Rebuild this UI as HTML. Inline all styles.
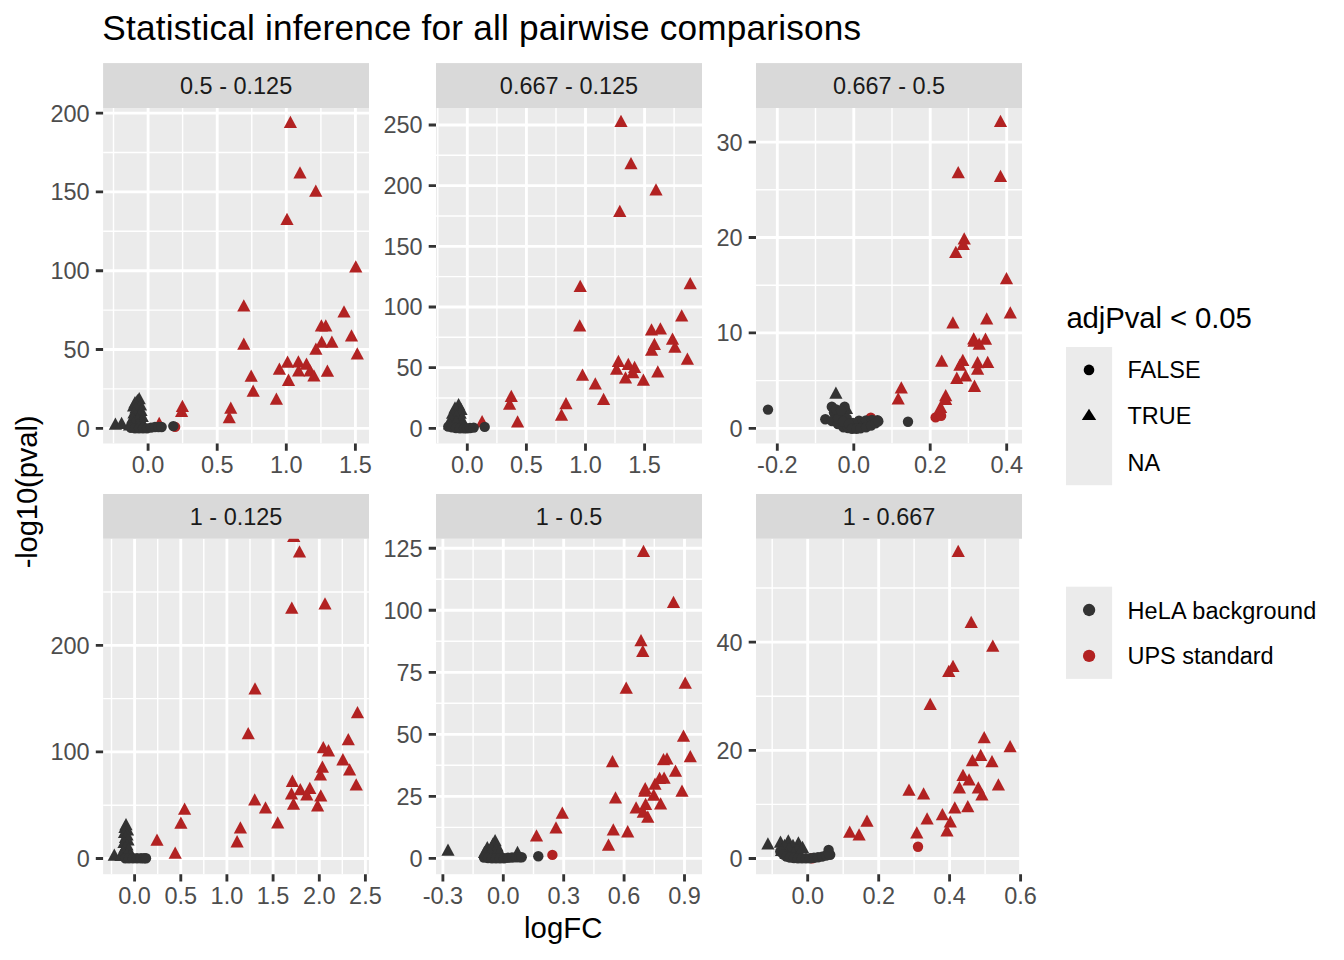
<!DOCTYPE html>
<html lang="en"><head><meta charset="utf-8"><title>Statistical inference for all pairwise comparisons</title>
<style>html,body{margin:0;padding:0;background:#fff}body{width:1344px;height:960px;overflow:hidden}svg{display:block}text{font-family:"Liberation Sans",Arial,Helvetica,sans-serif}.ax{font-size:23.47px;fill:#4D4D4D}.st{font-size:23.47px;fill:#1A1A1A}.lg{font-size:23.47px;fill:#000}.tt{font-size:29.33px;fill:#000}.ti{font-size:35.2px;fill:#000;letter-spacing:0.2px}</style></head><body>
<svg width="1344" height="960" viewBox="0 0 1344 960">
<rect width="1344" height="960" fill="#fff"/>
<text class="ti" x="102.3" y="39.7">Statistical inference for all pairwise comparisons</text>
<g>
<rect x="103.1" y="63.1" width="265.9" height="44.9" fill="#D9D9D9"/>
<text class="st" x="236.1" y="94.3" text-anchor="middle">0.5 - 0.125</text>
<clipPath id="c0"><rect x="103.1" y="108.0" width="265.9" height="335.5"/></clipPath>
<rect x="103.1" y="108.0" width="265.9" height="335.5" fill="#EBEBEB"/>
<g clip-path="url(#c0)">
<path d="M113.5 108.0V443.5M182.6 108.0V443.5M251.8 108.0V443.5M320.9 108.0V443.5M103.1 388.9H369.0M103.1 310.1H369.0M103.1 231.3H369.0M103.1 152.5H369.0" stroke="#fff" stroke-width="1.42" fill="none"/>
<path d="M148.1 108.0V443.5M217.2 108.0V443.5M286.3 108.0V443.5M355.4 108.0V443.5M103.1 428.3H369.0M103.1 349.5H369.0M103.1 270.7H369.0M103.1 191.9H369.0M103.1 113.1H369.0" stroke="#fff" stroke-width="2.85" fill="none"/>
<circle cx="175.1" cy="426.9" r="5.20" fill="#B22222"/>
<path d="M290.4 115.7L297.0 128.0L283.8 128.0Z" fill="#B22222"/>
<path d="M300.0 166.2L306.6 178.5L293.4 178.5Z" fill="#B22222"/>
<path d="M315.8 184.4L322.4 196.8L309.1 196.8Z" fill="#B22222"/>
<path d="M287.0 212.7L293.6 225.0L280.4 225.0Z" fill="#B22222"/>
<path d="M355.8 260.2L362.4 272.5L349.1 272.5Z" fill="#B22222"/>
<path d="M243.8 299.3L250.4 311.6L237.2 311.6Z" fill="#B22222"/>
<path d="M344.0 305.2L350.6 317.5L337.4 317.5Z" fill="#B22222"/>
<path d="M321.4 319.2L328.0 331.5L314.8 331.5Z" fill="#B22222"/>
<path d="M325.8 319.2L332.4 331.5L319.2 331.5Z" fill="#B22222"/>
<path d="M351.5 329.2L358.1 341.5L344.9 341.5Z" fill="#B22222"/>
<path d="M243.8 337.4L250.4 349.7L237.2 349.7Z" fill="#B22222"/>
<path d="M321.7 335.4L328.3 347.7L315.1 347.7Z" fill="#B22222"/>
<path d="M331.9 335.4L338.5 347.7L325.3 347.7Z" fill="#B22222"/>
<path d="M315.9 342.4L322.5 354.7L309.3 354.7Z" fill="#B22222"/>
<path d="M357.3 347.3L363.9 359.6L350.7 359.6Z" fill="#B22222"/>
<path d="M287.6 355.4L294.2 367.7L280.9 367.7Z" fill="#B22222"/>
<path d="M298.4 355.3L305.0 367.6L291.8 367.6Z" fill="#B22222"/>
<path d="M306.5 357.5L313.1 369.8L299.9 369.8Z" fill="#B22222"/>
<path d="M279.4 362.4L286.0 374.7L272.8 374.7Z" fill="#B22222"/>
<path d="M298.6 364.3L305.2 376.6L292.0 376.6Z" fill="#B22222"/>
<path d="M310.0 364.3L316.6 376.6L303.4 376.6Z" fill="#B22222"/>
<path d="M313.9 369.2L320.5 381.5L307.3 381.5Z" fill="#B22222"/>
<path d="M327.4 364.5L334.1 376.8L320.8 376.8Z" fill="#B22222"/>
<path d="M288.5 373.6L295.1 385.9L281.9 385.9Z" fill="#B22222"/>
<path d="M251.2 369.5L257.8 381.8L244.6 381.8Z" fill="#B22222"/>
<path d="M253.2 384.5L259.8 396.8L246.6 396.8Z" fill="#B22222"/>
<path d="M276.4 392.4L283.0 404.7L269.8 404.7Z" fill="#B22222"/>
<path d="M182.4 399.7L189.0 412.0L175.8 412.0Z" fill="#B22222"/>
<path d="M181.6 404.7L188.2 417.0L175.0 417.0Z" fill="#B22222"/>
<path d="M230.8 401.4L237.3 413.8L224.2 413.8Z" fill="#B22222"/>
<path d="M229.2 410.9L235.8 423.2L222.7 423.2Z" fill="#B22222"/>
<path d="M159.2 416.7L165.8 429.0L152.6 429.0Z" fill="#B22222"/>
<path d="M115.4 417.4L122.0 429.7L108.8 429.7Z" fill="#333333"/>
<path d="M121.6 416.8L128.2 429.1L115.0 429.1Z" fill="#333333"/>
<path d="M139.2 391.9L145.8 404.2L132.6 404.2Z" fill="#333333"/>
<path d="M137.4 393.9L144.0 406.2L130.8 406.2Z" fill="#333333"/>
<path d="M135.0 396.0L141.6 408.3L128.4 408.3Z" fill="#333333"/>
<path d="M133.6 399.2L140.2 411.5L127.0 411.5Z" fill="#333333"/>
<path d="M140.5 398.2L147.1 410.5L133.9 410.5Z" fill="#333333"/>
<path d="M136.0 401.2L142.6 413.5L129.4 413.5Z" fill="#333333"/>
<path d="M141.0 403.7L147.6 416.0L134.4 416.0Z" fill="#333333"/>
<path d="M134.0 406.2L140.6 418.5L127.4 418.5Z" fill="#333333"/>
<path d="M139.5 408.2L146.1 420.5L132.9 420.5Z" fill="#333333"/>
<path d="M142.3 409.7L148.9 422.0L135.7 422.0Z" fill="#333333"/>
<path d="M132.8 411.2L139.4 423.5L126.2 423.5Z" fill="#333333"/>
<path d="M137.5 412.7L144.1 425.0L130.9 425.0Z" fill="#333333"/>
<path d="M141.5 414.7L148.1 427.0L134.9 427.0Z" fill="#333333"/>
<path d="M133.5 416.2L140.1 428.5L126.9 428.5Z" fill="#333333"/>
<path d="M138.0 417.7L144.6 430.0L131.4 430.0Z" fill="#333333"/>
<path d="M129.5 418.2L136.1 430.5L122.9 430.5Z" fill="#333333"/>
<path d="M143.5 418.2L150.1 430.5L136.9 430.5Z" fill="#333333"/>
<circle cx="131.0" cy="427.8" r="5.20" fill="#333333"/>
<circle cx="135.0" cy="428.2" r="5.20" fill="#333333"/>
<circle cx="139.0" cy="428.4" r="5.20" fill="#333333"/>
<circle cx="143.0" cy="428.4" r="5.20" fill="#333333"/>
<circle cx="147.0" cy="428.4" r="5.20" fill="#333333"/>
<circle cx="151.0" cy="427.6" r="5.20" fill="#333333"/>
<circle cx="155.0" cy="427.0" r="5.20" fill="#333333"/>
<circle cx="158.5" cy="427.0" r="5.20" fill="#333333"/>
<circle cx="161.6" cy="427.0" r="5.20" fill="#333333"/>
<circle cx="173.3" cy="426.1" r="5.20" fill="#333333"/>
</g>
<text class="ax" x="148.1" y="472.8" text-anchor="middle">0.0</text>
<text class="ax" x="217.2" y="472.8" text-anchor="middle">0.5</text>
<text class="ax" x="286.3" y="472.8" text-anchor="middle">1.0</text>
<text class="ax" x="355.4" y="472.8" text-anchor="middle">1.5</text>
<text class="ax" x="89.7" y="436.7" text-anchor="end">0</text>
<text class="ax" x="89.7" y="357.9" text-anchor="end">50</text>
<text class="ax" x="89.7" y="279.1" text-anchor="end">100</text>
<text class="ax" x="89.7" y="200.3" text-anchor="end">150</text>
<text class="ax" x="89.7" y="121.5" text-anchor="end">200</text>
<path d="M148.1 443.5V450.8M217.2 443.5V450.8M286.3 443.5V450.8M355.4 443.5V450.8M95.8 428.3H103.1M95.8 349.5H103.1M95.8 270.7H103.1M95.8 191.9H103.1M95.8 113.1H103.1" stroke="#333" stroke-width="2.85" fill="none"/>
</g>
<g>
<rect x="436.0" y="63.1" width="266.0" height="44.9" fill="#D9D9D9"/>
<text class="st" x="569.0" y="94.3" text-anchor="middle">0.667 - 0.125</text>
<clipPath id="c1"><rect x="436.0" y="108.0" width="266.0" height="335.5"/></clipPath>
<rect x="436.0" y="108.0" width="266.0" height="335.5" fill="#EBEBEB"/>
<g clip-path="url(#c1)">
<path d="M437.8 108.0V443.5M496.9 108.0V443.5M556.0 108.0V443.5M615.0 108.0V443.5M674.1 108.0V443.5M436.0 398.0H702.0M436.0 337.3H702.0M436.0 276.6H702.0M436.0 216.0H702.0M436.0 155.3H702.0" stroke="#fff" stroke-width="1.42" fill="none"/>
<path d="M467.3 108.0V443.5M526.4 108.0V443.5M585.5 108.0V443.5M644.6 108.0V443.5M436.0 428.3H702.0M436.0 367.6H702.0M436.0 307.0H702.0M436.0 246.3H702.0M436.0 185.6H702.0M436.0 125.0H702.0" stroke="#fff" stroke-width="2.85" fill="none"/>
<path d="M621.0 114.7L627.6 127.0L614.4 127.0Z" fill="#B22222"/>
<path d="M631.0 156.9L637.6 169.2L624.4 169.2Z" fill="#B22222"/>
<path d="M656.0 183.2L662.6 195.5L649.4 195.5Z" fill="#B22222"/>
<path d="M619.8 204.7L626.4 217.0L613.1 217.0Z" fill="#B22222"/>
<path d="M690.2 276.9L696.9 289.2L683.6 289.2Z" fill="#B22222"/>
<path d="M580.2 279.7L586.9 292.0L573.6 292.0Z" fill="#B22222"/>
<path d="M681.7 309.2L688.3 321.5L675.1 321.5Z" fill="#B22222"/>
<path d="M579.7 319.2L586.3 331.5L573.1 331.5Z" fill="#B22222"/>
<path d="M651.5 323.2L658.1 335.5L644.9 335.5Z" fill="#B22222"/>
<path d="M660.4 322.3L667.0 334.6L653.8 334.6Z" fill="#B22222"/>
<path d="M672.5 332.5L679.1 344.8L665.9 344.8Z" fill="#B22222"/>
<path d="M654.4 337.7L661.0 350.0L647.8 350.0Z" fill="#B22222"/>
<path d="M674.9 340.5L681.5 352.8L668.3 352.8Z" fill="#B22222"/>
<path d="M651.6 343.4L658.2 355.7L645.0 355.7Z" fill="#B22222"/>
<path d="M687.4 352.5L694.0 364.8L680.8 364.8Z" fill="#B22222"/>
<path d="M618.4 354.7L625.0 367.0L611.8 367.0Z" fill="#B22222"/>
<path d="M616.6 362.4L623.2 374.7L610.0 374.7Z" fill="#B22222"/>
<path d="M628.3 357.7L634.9 370.0L621.7 370.0Z" fill="#B22222"/>
<path d="M634.6 360.8L641.2 373.1L628.0 373.1Z" fill="#B22222"/>
<path d="M632.8 366.0L639.4 378.3L626.2 378.3Z" fill="#B22222"/>
<path d="M625.5 371.3L632.1 383.6L618.9 383.6Z" fill="#B22222"/>
<path d="M643.4 373.4L650.0 385.7L636.8 385.7Z" fill="#B22222"/>
<path d="M657.8 365.3L664.4 377.6L651.2 377.6Z" fill="#B22222"/>
<path d="M582.5 368.4L589.1 380.7L575.9 380.7Z" fill="#B22222"/>
<path d="M595.3 377.3L601.9 389.6L588.7 389.6Z" fill="#B22222"/>
<path d="M603.6 392.7L610.2 405.0L597.0 405.0Z" fill="#B22222"/>
<path d="M566.0 396.9L572.6 409.2L559.4 409.2Z" fill="#B22222"/>
<path d="M561.5 408.4L568.1 420.8L554.9 420.8Z" fill="#B22222"/>
<path d="M511.3 389.7L517.9 402.0L504.7 402.0Z" fill="#B22222"/>
<path d="M509.6 397.5L516.2 409.8L503.0 409.8Z" fill="#B22222"/>
<path d="M517.6 415.3L524.2 427.6L511.0 427.6Z" fill="#B22222"/>
<path d="M482.1 414.9L488.7 427.2L475.5 427.2Z" fill="#B22222"/>
<path d="M458.6 397.9L465.2 410.2L452.0 410.2Z" fill="#333333"/>
<path d="M455.0 401.2L461.6 413.5L448.4 413.5Z" fill="#333333"/>
<path d="M461.0 402.7L467.6 415.0L454.4 415.0Z" fill="#333333"/>
<path d="M452.6 406.4L459.2 418.7L446.0 418.7Z" fill="#333333"/>
<path d="M460.2 406.4L466.8 418.7L453.6 418.7Z" fill="#333333"/>
<path d="M456.5 409.2L463.1 421.5L449.9 421.5Z" fill="#333333"/>
<path d="M451.0 412.2L457.6 424.5L444.4 424.5Z" fill="#333333"/>
<path d="M461.5 412.2L468.1 424.5L454.9 424.5Z" fill="#333333"/>
<path d="M456.0 414.7L462.6 427.0L449.4 427.0Z" fill="#333333"/>
<path d="M449.5 417.2L456.1 429.5L442.9 429.5Z" fill="#333333"/>
<path d="M462.0 417.2L468.6 429.5L455.4 429.5Z" fill="#333333"/>
<circle cx="448.3" cy="426.6" r="5.20" fill="#333333"/>
<circle cx="452.0" cy="427.2" r="5.20" fill="#333333"/>
<circle cx="456.0" cy="428.0" r="5.20" fill="#333333"/>
<circle cx="460.0" cy="428.3" r="5.20" fill="#333333"/>
<circle cx="464.0" cy="428.4" r="5.20" fill="#333333"/>
<circle cx="467.0" cy="428.4" r="5.20" fill="#333333"/>
<circle cx="470.0" cy="428.0" r="5.20" fill="#333333"/>
<circle cx="473.7" cy="427.6" r="5.20" fill="#333333"/>
<circle cx="484.7" cy="426.9" r="5.20" fill="#333333"/>
</g>
<text class="ax" x="467.3" y="472.8" text-anchor="middle">0.0</text>
<text class="ax" x="526.4" y="472.8" text-anchor="middle">0.5</text>
<text class="ax" x="585.5" y="472.8" text-anchor="middle">1.0</text>
<text class="ax" x="644.6" y="472.8" text-anchor="middle">1.5</text>
<text class="ax" x="422.6" y="436.7" text-anchor="end">0</text>
<text class="ax" x="422.6" y="376.0" text-anchor="end">50</text>
<text class="ax" x="422.6" y="315.4" text-anchor="end">100</text>
<text class="ax" x="422.6" y="254.7" text-anchor="end">150</text>
<text class="ax" x="422.6" y="194.0" text-anchor="end">200</text>
<text class="ax" x="422.6" y="133.4" text-anchor="end">250</text>
<path d="M467.3 443.5V450.8M526.4 443.5V450.8M585.5 443.5V450.8M644.6 443.5V450.8M428.7 428.3H436.0M428.7 367.6H436.0M428.7 307.0H436.0M428.7 246.3H436.0M428.7 185.6H436.0M428.7 125.0H436.0" stroke="#333" stroke-width="2.85" fill="none"/>
</g>
<g>
<rect x="756.0" y="63.1" width="266.0" height="44.9" fill="#D9D9D9"/>
<text class="st" x="889.0" y="94.3" text-anchor="middle">0.667 - 0.5</text>
<clipPath id="c2"><rect x="756.0" y="108.0" width="266.0" height="335.5"/></clipPath>
<rect x="756.0" y="108.0" width="266.0" height="335.5" fill="#EBEBEB"/>
<g clip-path="url(#c2)">
<path d="M815.5 108.0V443.5M892.0 108.0V443.5M968.4 108.0V443.5M756.0 380.6H1022.0M756.0 285.2H1022.0M756.0 189.8H1022.0" stroke="#fff" stroke-width="1.42" fill="none"/>
<path d="M777.3 108.0V443.5M853.8 108.0V443.5M930.2 108.0V443.5M1006.7 108.0V443.5M756.0 428.3H1022.0M756.0 332.9H1022.0M756.0 237.5H1022.0M756.0 142.1H1022.0" stroke="#fff" stroke-width="2.85" fill="none"/>
<circle cx="870.8" cy="417.6" r="5.20" fill="#B22222"/>
<circle cx="935.6" cy="417.4" r="5.20" fill="#B22222"/>
<circle cx="941.1" cy="415.7" r="5.20" fill="#B22222"/>
<path d="M1000.5 114.7L1007.1 127.0L993.9 127.0Z" fill="#B22222"/>
<path d="M958.2 165.9L964.9 178.2L951.6 178.2Z" fill="#B22222"/>
<path d="M1000.5 169.7L1007.1 182.0L993.9 182.0Z" fill="#B22222"/>
<path d="M964.2 232.2L970.9 244.5L957.6 244.5Z" fill="#B22222"/>
<path d="M963.2 237.7L969.9 250.0L956.6 250.0Z" fill="#B22222"/>
<path d="M955.8 245.7L962.4 258.0L949.1 258.0Z" fill="#B22222"/>
<path d="M1006.5 271.9L1013.1 284.2L999.9 284.2Z" fill="#B22222"/>
<path d="M1010.3 306.2L1016.9 318.5L1003.7 318.5Z" fill="#B22222"/>
<path d="M986.7 312.3L993.3 324.6L980.1 324.6Z" fill="#B22222"/>
<path d="M952.9 316.2L959.5 328.5L946.3 328.5Z" fill="#B22222"/>
<path d="M973.7 332.3L980.3 344.6L967.1 344.6Z" fill="#B22222"/>
<path d="M974.0 334.5L980.6 346.8L967.4 346.8Z" fill="#B22222"/>
<path d="M985.5 332.5L992.1 344.8L978.9 344.8Z" fill="#B22222"/>
<path d="M979.2 337.5L985.8 349.8L972.6 349.8Z" fill="#B22222"/>
<path d="M941.7 354.4L948.3 366.7L935.1 366.7Z" fill="#B22222"/>
<path d="M962.8 353.7L969.4 366.0L956.2 366.0Z" fill="#B22222"/>
<path d="M959.9 358.5L966.5 370.8L953.3 370.8Z" fill="#B22222"/>
<path d="M977.6 355.9L984.2 368.2L971.0 368.2Z" fill="#B22222"/>
<path d="M987.7 355.7L994.3 368.0L981.1 368.0Z" fill="#B22222"/>
<path d="M977.6 362.4L984.2 374.7L971.0 374.7Z" fill="#B22222"/>
<path d="M965.6 369.3L972.2 381.6L959.0 381.6Z" fill="#B22222"/>
<path d="M956.8 371.6L963.4 383.9L950.2 383.9Z" fill="#B22222"/>
<path d="M974.5 379.6L981.1 391.9L967.9 391.9Z" fill="#B22222"/>
<path d="M945.7 388.9L952.3 401.2L939.1 401.2Z" fill="#B22222"/>
<path d="M945.6 392.6L952.2 404.9L939.0 404.9Z" fill="#B22222"/>
<path d="M940.6 400.6L947.2 412.9L934.0 412.9Z" fill="#B22222"/>
<path d="M901.3 381.2L907.9 393.5L894.7 393.5Z" fill="#B22222"/>
<path d="M898.2 392.2L904.8 404.5L891.6 404.5Z" fill="#B22222"/>
<path d="M835.9 386.4L842.5 398.7L829.3 398.7Z" fill="#333333"/>
<path d="M846.5 401.7L853.1 414.0L839.9 414.0Z" fill="#333333"/>
<path d="M841.0 404.7L847.6 417.0L834.4 417.0Z" fill="#333333"/>
<circle cx="768.0" cy="409.6" r="5.20" fill="#333333"/>
<circle cx="831.8" cy="406.8" r="5.20" fill="#333333"/>
<circle cx="844.6" cy="406.8" r="5.20" fill="#333333"/>
<circle cx="825.3" cy="419.3" r="5.20" fill="#333333"/>
<circle cx="834.0" cy="412.5" r="5.20" fill="#333333"/>
<circle cx="840.0" cy="415.0" r="5.20" fill="#333333"/>
<circle cx="846.8" cy="418.5" r="5.20" fill="#333333"/>
<circle cx="832.0" cy="421.0" r="5.20" fill="#333333"/>
<circle cx="837.9" cy="424.0" r="5.20" fill="#333333"/>
<circle cx="843.5" cy="427.4" r="5.20" fill="#333333"/>
<circle cx="848.0" cy="428.0" r="5.20" fill="#333333"/>
<circle cx="852.4" cy="428.0" r="5.20" fill="#333333"/>
<circle cx="856.5" cy="427.4" r="5.20" fill="#333333"/>
<circle cx="860.2" cy="426.3" r="5.20" fill="#333333"/>
<circle cx="859.0" cy="420.7" r="5.20" fill="#333333"/>
<circle cx="853.0" cy="423.0" r="5.20" fill="#333333"/>
<circle cx="864.0" cy="425.0" r="5.20" fill="#333333"/>
<circle cx="868.0" cy="424.0" r="5.20" fill="#333333"/>
<circle cx="871.5" cy="422.5" r="5.20" fill="#333333"/>
<circle cx="874.7" cy="421.3" r="5.20" fill="#333333"/>
<circle cx="877.5" cy="420.2" r="5.20" fill="#333333"/>
<circle cx="866.0" cy="420.5" r="5.20" fill="#333333"/>
<circle cx="838.0" cy="418.5" r="5.20" fill="#333333"/>
<circle cx="843.0" cy="421.5" r="5.20" fill="#333333"/>
<circle cx="849.0" cy="424.0" r="5.20" fill="#333333"/>
<circle cx="836.0" cy="409.5" r="5.20" fill="#333333"/>
<circle cx="841.0" cy="410.5" r="5.20" fill="#333333"/>
<circle cx="872.0" cy="420.0" r="5.20" fill="#333333"/>
<circle cx="852.0" cy="428.8" r="5.20" fill="#333333"/>
<circle cx="856.5" cy="428.8" r="5.20" fill="#333333"/>
<circle cx="860.5" cy="428.4" r="5.20" fill="#333333"/>
<circle cx="866.0" cy="427.4" r="5.20" fill="#333333"/>
<circle cx="871.0" cy="425.6" r="5.20" fill="#333333"/>
<circle cx="875.5" cy="423.2" r="5.20" fill="#333333"/>
<circle cx="878.3" cy="421.2" r="5.20" fill="#333333"/>
<circle cx="908.0" cy="421.8" r="5.20" fill="#333333"/>
</g>
<text class="ax" x="777.3" y="472.8" text-anchor="middle">-0.2</text>
<text class="ax" x="853.8" y="472.8" text-anchor="middle">0.0</text>
<text class="ax" x="930.2" y="472.8" text-anchor="middle">0.2</text>
<text class="ax" x="1006.7" y="472.8" text-anchor="middle">0.4</text>
<text class="ax" x="742.6" y="436.7" text-anchor="end">0</text>
<text class="ax" x="742.6" y="341.3" text-anchor="end">10</text>
<text class="ax" x="742.6" y="245.9" text-anchor="end">20</text>
<text class="ax" x="742.6" y="150.5" text-anchor="end">30</text>
<path d="M777.3 443.5V450.8M853.8 443.5V450.8M930.2 443.5V450.8M1006.7 443.5V450.8M748.7 428.3H756.0M748.7 332.9H756.0M748.7 237.5H756.0M748.7 142.1H756.0" stroke="#333" stroke-width="2.85" fill="none"/>
</g>
<g>
<rect x="103.1" y="494.0" width="265.9" height="44.8" fill="#D9D9D9"/>
<text class="st" x="236.1" y="525.2" text-anchor="middle">1 - 0.125</text>
<clipPath id="c3"><rect x="103.1" y="538.8" width="265.9" height="335.4"/></clipPath>
<rect x="103.1" y="538.8" width="265.9" height="335.4" fill="#EBEBEB"/>
<g clip-path="url(#c3)">
<path d="M111.5 538.8V874.2M157.7 538.8V874.2M203.8 538.8V874.2M250.0 538.8V874.2M296.2 538.8V874.2M342.3 538.8V874.2M103.1 805.2H369.0M103.1 698.6H369.0M103.1 592.0H369.0" stroke="#fff" stroke-width="1.42" fill="none"/>
<path d="M134.6 538.8V874.2M180.8 538.8V874.2M226.9 538.8V874.2M273.1 538.8V874.2M319.3 538.8V874.2M365.4 538.8V874.2M103.1 858.5H369.0M103.1 751.9H369.0M103.1 645.3H369.0" stroke="#fff" stroke-width="2.85" fill="none"/>
<path d="M293.8 529.7L300.4 542.0L287.1 542.0Z" fill="#B22222"/>
<path d="M299.5 545.2L306.1 557.5L292.9 557.5Z" fill="#B22222"/>
<path d="M325.0 597.2L331.6 609.5L318.4 609.5Z" fill="#B22222"/>
<path d="M291.8 601.5L298.4 613.8L285.1 613.8Z" fill="#B22222"/>
<path d="M255.0 682.2L261.6 694.5L248.4 694.5Z" fill="#B22222"/>
<path d="M357.5 706.0L364.1 718.2L350.9 718.2Z" fill="#B22222"/>
<path d="M248.2 727.0L254.8 739.2L241.7 739.2Z" fill="#B22222"/>
<path d="M348.3 733.0L354.9 745.3L341.7 745.3Z" fill="#B22222"/>
<path d="M323.3 741.0L329.9 753.3L316.7 753.3Z" fill="#B22222"/>
<path d="M328.5 744.1L335.1 756.4L321.9 756.4Z" fill="#B22222"/>
<path d="M342.9 753.1L349.5 765.4L336.3 765.4Z" fill="#B22222"/>
<path d="M322.4 760.4L329.0 772.7L315.8 772.7Z" fill="#B22222"/>
<path d="M349.6 763.2L356.2 775.5L343.0 775.5Z" fill="#B22222"/>
<path d="M320.4 768.3L327.0 780.6L313.8 780.6Z" fill="#B22222"/>
<path d="M356.2 778.2L362.9 790.5L349.6 790.5Z" fill="#B22222"/>
<path d="M292.4 774.6L299.0 786.9L285.8 786.9Z" fill="#B22222"/>
<path d="M300.3 783.0L306.9 795.3L293.7 795.3Z" fill="#B22222"/>
<path d="M309.8 781.7L316.4 794.0L303.2 794.0Z" fill="#B22222"/>
<path d="M291.5 787.3L298.1 799.6L284.9 799.6Z" fill="#B22222"/>
<path d="M306.8 788.2L313.4 800.5L300.2 800.5Z" fill="#B22222"/>
<path d="M320.8 789.2L327.4 801.5L314.2 801.5Z" fill="#B22222"/>
<path d="M293.5 797.4L300.1 809.7L286.9 809.7Z" fill="#B22222"/>
<path d="M317.6 799.1L324.2 811.4L311.0 811.4Z" fill="#B22222"/>
<path d="M254.7 793.2L261.3 805.5L248.1 805.5Z" fill="#B22222"/>
<path d="M265.5 801.3L272.1 813.6L258.9 813.6Z" fill="#B22222"/>
<path d="M277.7 816.2L284.3 828.5L271.1 828.5Z" fill="#B22222"/>
<path d="M240.4 821.2L247.0 833.5L233.8 833.5Z" fill="#B22222"/>
<path d="M237.1 835.1L243.7 847.4L230.5 847.4Z" fill="#B22222"/>
<path d="M184.6 802.4L191.2 814.7L178.0 814.7Z" fill="#B22222"/>
<path d="M180.9 816.5L187.5 828.8L174.3 828.8Z" fill="#B22222"/>
<path d="M157.0 833.4L163.6 845.7L150.4 845.7Z" fill="#B22222"/>
<path d="M175.2 846.5L181.8 858.8L168.6 858.8Z" fill="#B22222"/>
<path d="M114.3 848.5L120.9 860.8L107.7 860.8Z" fill="#333333"/>
<path d="M126.0 817.9L132.6 830.2L119.4 830.2Z" fill="#333333"/>
<path d="M125.0 820.7L131.6 833.0L118.4 833.0Z" fill="#333333"/>
<path d="M127.5 823.2L134.1 835.5L120.9 835.5Z" fill="#333333"/>
<path d="M124.5 825.7L131.1 838.0L117.9 838.0Z" fill="#333333"/>
<path d="M127.0 828.2L133.6 840.5L120.4 840.5Z" fill="#333333"/>
<path d="M125.5 830.7L132.1 843.0L118.9 843.0Z" fill="#333333"/>
<path d="M128.0 833.2L134.6 845.5L121.4 845.5Z" fill="#333333"/>
<path d="M124.0 835.7L130.6 848.0L117.4 848.0Z" fill="#333333"/>
<path d="M127.0 838.2L133.6 850.5L120.4 850.5Z" fill="#333333"/>
<path d="M125.0 840.7L131.6 853.0L118.4 853.0Z" fill="#333333"/>
<path d="M128.5 842.7L135.1 855.0L121.9 855.0Z" fill="#333333"/>
<path d="M123.0 845.2L129.6 857.5L116.4 857.5Z" fill="#333333"/>
<path d="M127.0 847.2L133.6 859.5L120.4 859.5Z" fill="#333333"/>
<path d="M130.5 848.2L137.1 860.5L123.9 860.5Z" fill="#333333"/>
<path d="M121.0 848.7L127.6 861.0L114.4 861.0Z" fill="#333333"/>
<circle cx="125.3" cy="858.2" r="5.20" fill="#333333"/>
<circle cx="129.0" cy="858.3" r="5.20" fill="#333333"/>
<circle cx="133.0" cy="858.3" r="5.20" fill="#333333"/>
<circle cx="137.0" cy="858.2" r="5.20" fill="#333333"/>
<circle cx="141.0" cy="858.2" r="5.20" fill="#333333"/>
<circle cx="144.0" cy="858.2" r="5.20" fill="#333333"/>
<circle cx="146.0" cy="858.2" r="5.20" fill="#333333"/>
</g>
<text class="ax" x="134.6" y="903.5" text-anchor="middle">0.0</text>
<text class="ax" x="180.8" y="903.5" text-anchor="middle">0.5</text>
<text class="ax" x="226.9" y="903.5" text-anchor="middle">1.0</text>
<text class="ax" x="273.1" y="903.5" text-anchor="middle">1.5</text>
<text class="ax" x="319.3" y="903.5" text-anchor="middle">2.0</text>
<text class="ax" x="365.4" y="903.5" text-anchor="middle">2.5</text>
<text class="ax" x="89.7" y="866.9" text-anchor="end">0</text>
<text class="ax" x="89.7" y="760.3" text-anchor="end">100</text>
<text class="ax" x="89.7" y="653.7" text-anchor="end">200</text>
<path d="M134.6 874.2V881.5M180.8 874.2V881.5M226.9 874.2V881.5M273.1 874.2V881.5M319.3 874.2V881.5M365.4 874.2V881.5M95.8 858.5H103.1M95.8 751.9H103.1M95.8 645.3H103.1" stroke="#333" stroke-width="2.85" fill="none"/>
</g>
<g>
<rect x="436.0" y="494.0" width="266.0" height="44.8" fill="#D9D9D9"/>
<text class="st" x="569.0" y="525.2" text-anchor="middle">1 - 0.5</text>
<clipPath id="c4"><rect x="436.0" y="538.8" width="266.0" height="335.4"/></clipPath>
<rect x="436.0" y="538.8" width="266.0" height="335.4" fill="#EBEBEB"/>
<g clip-path="url(#c4)">
<path d="M473.1 538.8V874.2M533.5 538.8V874.2M593.9 538.8V874.2M654.3 538.8V874.2M436.0 827.4H702.0M436.0 765.3H702.0M436.0 703.3H702.0M436.0 641.3H702.0M436.0 579.2H702.0" stroke="#fff" stroke-width="1.42" fill="none"/>
<path d="M442.9 538.8V874.2M503.3 538.8V874.2M563.7 538.8V874.2M624.1 538.8V874.2M684.5 538.8V874.2M436.0 858.4H702.0M436.0 796.4H702.0M436.0 734.3H702.0M436.0 672.3H702.0M436.0 610.2H702.0M436.0 548.2H702.0" stroke="#fff" stroke-width="2.85" fill="none"/>
<circle cx="552.4" cy="854.9" r="5.20" fill="#B22222"/>
<path d="M643.5 544.7L650.1 557.0L636.9 557.0Z" fill="#B22222"/>
<path d="M673.5 595.7L680.1 608.0L666.9 608.0Z" fill="#B22222"/>
<path d="M641.0 634.0L647.6 646.2L634.4 646.2Z" fill="#B22222"/>
<path d="M642.8 644.7L649.4 657.0L636.1 657.0Z" fill="#B22222"/>
<path d="M685.2 676.5L691.9 688.8L678.6 688.8Z" fill="#B22222"/>
<path d="M626.2 681.5L632.9 693.8L619.6 693.8Z" fill="#B22222"/>
<path d="M683.5 729.5L690.1 741.8L676.9 741.8Z" fill="#B22222"/>
<path d="M690.3 749.9L696.9 762.2L683.7 762.2Z" fill="#B22222"/>
<path d="M663.5 753.0L670.1 765.3L656.9 765.3Z" fill="#B22222"/>
<path d="M667.0 752.3L673.6 764.6L660.4 764.6Z" fill="#B22222"/>
<path d="M612.5 755.0L619.1 767.3L605.9 767.3Z" fill="#B22222"/>
<path d="M675.5 764.5L682.1 776.8L668.9 776.8Z" fill="#B22222"/>
<path d="M659.6 771.7L666.2 784.0L653.0 784.0Z" fill="#B22222"/>
<path d="M664.1 771.4L670.7 783.7L657.5 783.7Z" fill="#B22222"/>
<path d="M655.0 777.4L661.6 789.7L648.4 789.7Z" fill="#B22222"/>
<path d="M645.2 781.9L651.8 794.2L638.6 794.2Z" fill="#B22222"/>
<path d="M644.6 784.4L651.2 796.7L638.0 796.7Z" fill="#B22222"/>
<path d="M682.0 784.4L688.6 796.7L675.4 796.7Z" fill="#B22222"/>
<path d="M653.7 788.4L660.3 800.7L647.1 800.7Z" fill="#B22222"/>
<path d="M615.5 791.3L622.1 803.6L608.9 803.6Z" fill="#B22222"/>
<path d="M660.6 797.2L667.2 809.5L654.0 809.5Z" fill="#B22222"/>
<path d="M645.6 797.8L652.2 810.1L639.0 810.1Z" fill="#B22222"/>
<path d="M636.1 801.3L642.7 813.6L629.5 813.6Z" fill="#B22222"/>
<path d="M643.3 805.4L649.9 817.7L636.7 817.7Z" fill="#B22222"/>
<path d="M647.8 810.4L654.4 822.7L641.2 822.7Z" fill="#B22222"/>
<path d="M562.3 806.5L568.9 818.8L555.7 818.8Z" fill="#B22222"/>
<path d="M556.0 821.2L562.6 833.5L549.4 833.5Z" fill="#B22222"/>
<path d="M536.5 829.3L543.1 841.6L529.9 841.6Z" fill="#B22222"/>
<path d="M613.3 823.2L619.9 835.5L606.7 835.5Z" fill="#B22222"/>
<path d="M627.7 825.1L634.3 837.4L621.1 837.4Z" fill="#B22222"/>
<path d="M608.5 838.4L615.1 850.7L601.9 850.7Z" fill="#B22222"/>
<path d="M448.0 843.4L454.6 855.7L441.4 855.7Z" fill="#333333"/>
<path d="M495.1 833.9L501.7 846.2L488.5 846.2Z" fill="#333333"/>
<path d="M487.3 841.0L493.9 853.3L480.7 853.3Z" fill="#333333"/>
<path d="M493.0 837.2L499.6 849.5L486.4 849.5Z" fill="#333333"/>
<path d="M497.0 839.2L503.6 851.5L490.4 851.5Z" fill="#333333"/>
<path d="M491.0 841.7L497.6 854.0L484.4 854.0Z" fill="#333333"/>
<path d="M496.0 843.2L502.6 855.5L489.4 855.5Z" fill="#333333"/>
<path d="M484.5 845.7L491.1 858.0L477.9 858.0Z" fill="#333333"/>
<path d="M490.0 846.2L496.6 858.5L483.4 858.5Z" fill="#333333"/>
<path d="M495.5 847.2L502.1 859.5L488.9 859.5Z" fill="#333333"/>
<path d="M499.5 844.7L506.1 857.0L492.9 857.0Z" fill="#333333"/>
<path d="M517.5 845.7L524.1 858.0L510.9 858.0Z" fill="#333333"/>
<circle cx="484.0" cy="857.6" r="5.20" fill="#333333"/>
<circle cx="488.0" cy="858.0" r="5.20" fill="#333333"/>
<circle cx="492.0" cy="858.3" r="5.20" fill="#333333"/>
<circle cx="496.0" cy="858.3" r="5.20" fill="#333333"/>
<circle cx="500.0" cy="858.3" r="5.20" fill="#333333"/>
<circle cx="504.0" cy="858.2" r="5.20" fill="#333333"/>
<circle cx="508.0" cy="857.8" r="5.20" fill="#333333"/>
<circle cx="512.0" cy="857.5" r="5.20" fill="#333333"/>
<circle cx="516.0" cy="857.3" r="5.20" fill="#333333"/>
<circle cx="519.5" cy="857.3" r="5.20" fill="#333333"/>
<circle cx="521.7" cy="857.3" r="5.20" fill="#333333"/>
<circle cx="538.3" cy="856.2" r="5.20" fill="#333333"/>
</g>
<text class="ax" x="442.9" y="903.5" text-anchor="middle">-0.3</text>
<text class="ax" x="503.3" y="903.5" text-anchor="middle">0.0</text>
<text class="ax" x="563.7" y="903.5" text-anchor="middle">0.3</text>
<text class="ax" x="624.1" y="903.5" text-anchor="middle">0.6</text>
<text class="ax" x="684.5" y="903.5" text-anchor="middle">0.9</text>
<text class="ax" x="422.6" y="866.8" text-anchor="end">0</text>
<text class="ax" x="422.6" y="804.8" text-anchor="end">25</text>
<text class="ax" x="422.6" y="742.7" text-anchor="end">50</text>
<text class="ax" x="422.6" y="680.7" text-anchor="end">75</text>
<text class="ax" x="422.6" y="618.6" text-anchor="end">100</text>
<text class="ax" x="422.6" y="556.6" text-anchor="end">125</text>
<path d="M442.9 874.2V881.5M503.3 874.2V881.5M563.7 874.2V881.5M624.1 874.2V881.5M684.5 874.2V881.5M428.7 858.4H436.0M428.7 796.4H436.0M428.7 734.3H436.0M428.7 672.3H436.0M428.7 610.2H436.0M428.7 548.2H436.0" stroke="#333" stroke-width="2.85" fill="none"/>
</g>
<g>
<rect x="756.0" y="494.0" width="266.0" height="44.8" fill="#D9D9D9"/>
<text class="st" x="889.0" y="525.2" text-anchor="middle">1 - 0.667</text>
<clipPath id="c5"><rect x="756.0" y="538.8" width="266.0" height="335.4"/></clipPath>
<rect x="756.0" y="538.8" width="266.0" height="335.4" fill="#EBEBEB"/>
<g clip-path="url(#c5)">
<path d="M772.2 538.8V874.2M843.2 538.8V874.2M914.1 538.8V874.2M985.1 538.8V874.2M756.0 804.4H1022.0M756.0 696.2H1022.0M756.0 588.0H1022.0" stroke="#fff" stroke-width="1.42" fill="none"/>
<path d="M807.7 538.8V874.2M878.7 538.8V874.2M949.6 538.8V874.2M1020.6 538.8V874.2M756.0 858.5H1022.0M756.0 750.3H1022.0M756.0 642.1H1022.0" stroke="#fff" stroke-width="2.85" fill="none"/>
<circle cx="918.0" cy="846.8" r="5.20" fill="#B22222"/>
<circle cx="812.2" cy="858.3" r="5.20" fill="#B22222"/>
<path d="M958.2 544.7L964.9 557.0L951.6 557.0Z" fill="#B22222"/>
<path d="M971.2 615.7L977.9 628.0L964.6 628.0Z" fill="#B22222"/>
<path d="M992.8 639.5L999.4 651.8L986.1 651.8Z" fill="#B22222"/>
<path d="M953.0 659.7L959.6 672.0L946.4 672.0Z" fill="#B22222"/>
<path d="M948.8 664.7L955.4 677.0L942.1 677.0Z" fill="#B22222"/>
<path d="M930.2 697.7L936.9 710.0L923.6 710.0Z" fill="#B22222"/>
<path d="M984.2 731.0L990.8 743.3L977.6 743.3Z" fill="#B22222"/>
<path d="M1010.1 740.0L1016.7 752.3L1003.5 752.3Z" fill="#B22222"/>
<path d="M980.7 748.7L987.3 761.0L974.1 761.0Z" fill="#B22222"/>
<path d="M972.4 754.0L979.0 766.3L965.8 766.3Z" fill="#B22222"/>
<path d="M992.0 754.9L998.6 767.2L985.4 767.2Z" fill="#B22222"/>
<path d="M963.0 768.7L969.6 781.0L956.4 781.0Z" fill="#B22222"/>
<path d="M969.1 773.3L975.7 785.6L962.5 785.6Z" fill="#B22222"/>
<path d="M959.4 781.1L966.0 793.4L952.8 793.4Z" fill="#B22222"/>
<path d="M978.3 781.3L984.9 793.6L971.7 793.6Z" fill="#B22222"/>
<path d="M998.4 778.2L1005.0 790.5L991.8 790.5Z" fill="#B22222"/>
<path d="M981.9 788.2L988.5 800.5L975.3 800.5Z" fill="#B22222"/>
<path d="M909.0 783.4L915.6 795.7L902.4 795.7Z" fill="#B22222"/>
<path d="M923.6 787.3L930.2 799.6L917.0 799.6Z" fill="#B22222"/>
<path d="M954.8 801.3L961.4 813.6L948.2 813.6Z" fill="#B22222"/>
<path d="M967.8 800.0L974.4 812.3L961.2 812.3Z" fill="#B22222"/>
<path d="M942.4 808.0L949.0 820.3L935.8 820.3Z" fill="#B22222"/>
<path d="M950.3 815.2L956.9 827.5L943.7 827.5Z" fill="#B22222"/>
<path d="M927.1 812.3L933.7 824.6L920.5 824.6Z" fill="#B22222"/>
<path d="M947.0 824.3L953.6 836.6L940.4 836.6Z" fill="#B22222"/>
<path d="M916.8 826.3L923.4 838.6L910.2 838.6Z" fill="#B22222"/>
<path d="M867.0 814.4L873.6 826.7L860.4 826.7Z" fill="#B22222"/>
<path d="M859.1 828.2L865.7 840.5L852.5 840.5Z" fill="#B22222"/>
<path d="M849.7 825.4L856.3 837.7L843.1 837.7Z" fill="#B22222"/>
<path d="M767.9 837.2L774.5 849.5L761.3 849.5Z" fill="#333333"/>
<path d="M780.5 835.4L787.1 847.7L773.9 847.7Z" fill="#333333"/>
<path d="M788.3 834.2L794.9 846.5L781.7 846.5Z" fill="#333333"/>
<path d="M798.4 836.2L805.0 848.5L791.8 848.5Z" fill="#333333"/>
<path d="M784.5 838.7L791.1 851.0L777.9 851.0Z" fill="#333333"/>
<path d="M793.0 838.7L799.6 851.0L786.4 851.0Z" fill="#333333"/>
<path d="M789.0 841.7L795.6 854.0L782.4 854.0Z" fill="#333333"/>
<path d="M797.0 842.7L803.6 855.0L790.4 855.0Z" fill="#333333"/>
<path d="M781.5 843.7L788.1 856.0L774.9 856.0Z" fill="#333333"/>
<path d="M786.0 846.2L792.6 858.5L779.4 858.5Z" fill="#333333"/>
<path d="M793.5 846.7L800.1 859.0L786.9 859.0Z" fill="#333333"/>
<path d="M800.0 847.2L806.6 859.5L793.4 859.5Z" fill="#333333"/>
<path d="M802.5 840.7L809.1 853.0L795.9 853.0Z" fill="#333333"/>
<circle cx="828.6" cy="850.0" r="5.20" fill="#333333"/>
<circle cx="830.2" cy="854.7" r="5.20" fill="#333333"/>
<circle cx="780.3" cy="851.5" r="5.20" fill="#333333"/>
<circle cx="783.5" cy="854.5" r="5.20" fill="#333333"/>
<circle cx="786.5" cy="856.5" r="5.20" fill="#333333"/>
<circle cx="790.0" cy="857.5" r="5.20" fill="#333333"/>
<circle cx="794.0" cy="858.0" r="5.20" fill="#333333"/>
<circle cx="798.0" cy="858.3" r="5.20" fill="#333333"/>
<circle cx="802.0" cy="858.3" r="5.20" fill="#333333"/>
<circle cx="806.0" cy="858.3" r="5.20" fill="#333333"/>
<circle cx="810.0" cy="858.2" r="5.20" fill="#333333"/>
<circle cx="814.0" cy="857.8" r="5.20" fill="#333333"/>
<circle cx="818.0" cy="857.3" r="5.20" fill="#333333"/>
<circle cx="822.0" cy="856.6" r="5.20" fill="#333333"/>
<circle cx="826.0" cy="855.5" r="5.20" fill="#333333"/>
<circle cx="829.0" cy="854.0" r="5.20" fill="#333333"/>
</g>
<text class="ax" x="807.7" y="903.5" text-anchor="middle">0.0</text>
<text class="ax" x="878.7" y="903.5" text-anchor="middle">0.2</text>
<text class="ax" x="949.6" y="903.5" text-anchor="middle">0.4</text>
<text class="ax" x="1020.6" y="903.5" text-anchor="middle">0.6</text>
<text class="ax" x="742.6" y="866.9" text-anchor="end">0</text>
<text class="ax" x="742.6" y="758.7" text-anchor="end">20</text>
<text class="ax" x="742.6" y="650.5" text-anchor="end">40</text>
<path d="M807.7 874.2V881.5M878.7 874.2V881.5M949.6 874.2V881.5M1020.6 874.2V881.5M748.7 858.5H756.0M748.7 750.3H756.0M748.7 642.1H756.0" stroke="#333" stroke-width="2.85" fill="none"/>
</g>
<text class="tt" x="563.2" y="938.2" text-anchor="middle">logFC</text>
<text class="tt" transform="translate(37.1 492) rotate(-90)" text-anchor="middle" style="letter-spacing:-0.18px">-log10(pval)</text>
<text class="tt" x="1066.4" y="328.2" style="letter-spacing:-0.1px">adjPval &lt; 0.05</text>
<rect x="1066" y="347" width="46.1" height="138.2" fill="#EBEBEB"/>
<circle cx="1089" cy="369.9" r="5.3" fill="#000"/>
<path d="M1089 408.7L1096.2 420L1081.8 420Z" fill="#000"/>
<text class="lg" x="1127.5" y="378.2">FALSE</text>
<text class="lg" x="1127.5" y="424.4">TRUE</text>
<text class="lg" x="1127.5" y="470.5">NA</text>
<rect x="1066" y="586.7" width="46.1" height="92.2" fill="#EBEBEB"/>
<circle cx="1089.1" cy="610" r="6.15" fill="#333333"/>
<circle cx="1089.1" cy="655.9" r="6.15" fill="#B22222"/>
<text class="lg" x="1127.5" y="618.6" style="letter-spacing:0.15px">HeLA background</text>
<text class="lg" x="1127.5" y="664.4">UPS standard</text>
</svg></body></html>
